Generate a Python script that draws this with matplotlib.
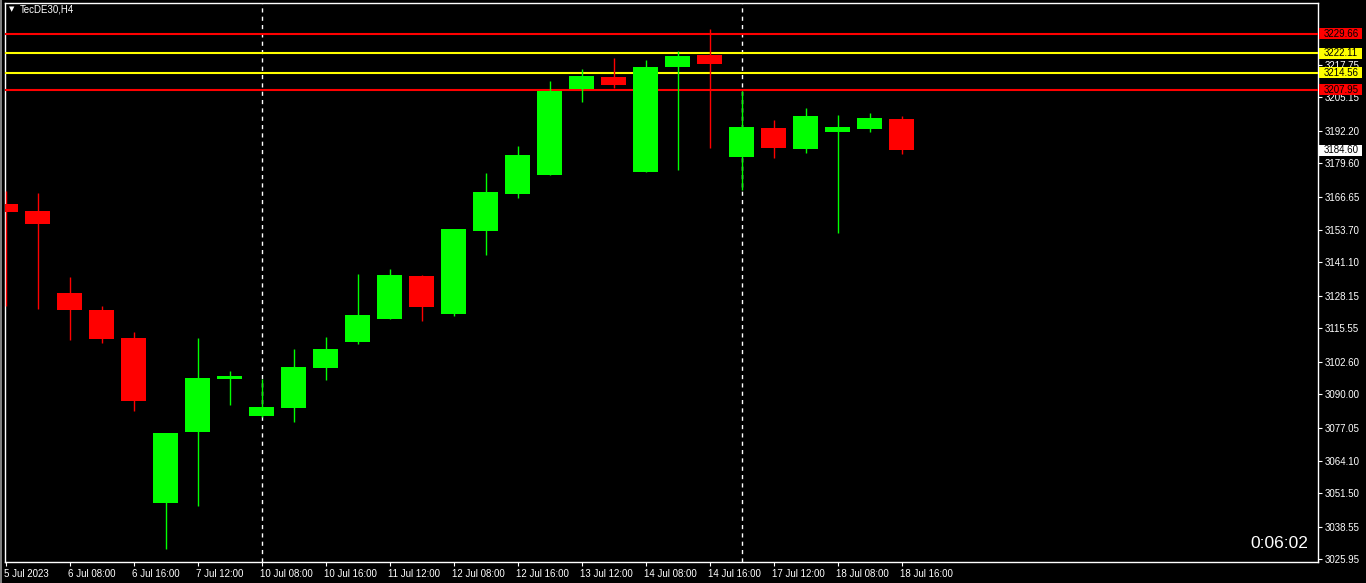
import matplotlib
matplotlib.use('Agg')
import matplotlib.pyplot as plt
import matplotlib.transforms as mtransforms
from matplotlib.patches import Rectangle

# ---- data (TecDE30, H4) ----
opens = [3163.75, 3161.0, 3129.2, 3122.65, 3111.8, 3047.9, 3075.45, 3095.9, 3081.65, 3084.75,
         3100.3, 3110.35, 3119.15, 3135.8, 3121.2, 3153.4, 3167.75, 3175.1, 3208.35, 3213.0,
         3176.25, 3217.0, 3221.5, 3182.1, 3193.2, 3185.1, 3191.65, 3192.8, 3196.7]
highs = [3168.8, 3168.0, 3135.4, 3124.2, 3114.1, 3074.95, 3111.8, 3099.0, 3095.9, 3107.5,
         3112.2, 3136.6, 3138.55, 3136.2, 3154.05, 3175.75, 3186.25, 3211.45, 3216.1, 3220.35,
         3219.6, 3223.05, 3231.6, 3207.5, 3196.3, 3201.0, 3198.25, 3199.0, 3197.85]
lows = [3124.2, 3123.15, 3111.1, 3110.0, 3083.6, 3030.1, 3046.8, 3085.9, 3081.0, 3079.35,
        3095.6, 3109.6, 3119.15, 3118.5, 3120.45, 3144.1, 3166.2, 3175.1, 3203.4, 3208.85,
        3176.25, 3177.05, 3185.6, 3169.2, 3181.6, 3183.5, 3152.5, 3191.65, 3183.15]
closes = [3160.65, 3156.1, 3122.8, 3111.5, 3087.5, 3074.95, 3096.3, 3097.05, 3085.05, 3100.55,
          3107.5, 3120.7, 3136.2, 3123.9, 3154.05, 3168.4, 3182.75, 3207.55, 3213.4, 3210.0,
          3216.85, 3221.15, 3218.15, 3193.6, 3185.45, 3197.85, 3193.6, 3197.1, 3184.6]

x_tick_labels = ["5 Jul 2023", "6 Jul 08:00", "6 Jul 16:00", "7 Jul 12:00", "10 Jul 08:00",
                 "10 Jul 16:00", "11 Jul 12:00", "12 Jul 08:00", "12 Jul 16:00", "13 Jul 12:00",
                 "14 Jul 08:00", "14 Jul 16:00", "17 Jul 12:00", "18 Jul 08:00", "18 Jul 16:00"]
y_tick_values = [3217.75, 3205.15, 3192.20, 3179.60, 3166.65, 3153.70, 3141.10, 3128.15,
                 3115.55, 3102.60, 3090.00, 3077.05, 3064.10, 3051.50, 3038.55, 3025.95]
levels = [3229.66, 3222.11, 3214.56, 3207.95]
level_colors = ['#FF0000', '#FFFF00', '#FFFF00', '#FF0000']
separator_bars = [8, 23]
current_price = 3184.60
symbol_title = "TecDE30,H4"
timer_text = "0:06:02"

W, H = 1366, 583
FONT = 'Liberation Sans'
fig = plt.figure(figsize=(W / 100, H / 100), dpi=100, facecolor='black')
ax = fig.add_axes([4.5 / W, 21 / H, 1313.5 / W, 559 / H], facecolor='black')

n = len(opens)
xs = list(range(n))
xmin = -1.0 / 32
ax.set_xlim(xmin, xmin + 1313.5 / 32)
ax.set_ylim(3024.93, 3241.68)

# horizontal levels
for lv, c in zip(levels, level_colors):
    ax.axhline(lv, color=c, lw=1.5, zorder=3)

# period separators
for sb in separator_bars:
    ax.axvline(sb, color='white', lw=1, ls=(0, (3, 3)), zorder=1)

# candles
for x, o, h, l, c in zip(xs, opens, highs, lows, closes):
    col = '#00FF00' if c >= o else '#FF0000'
    ax.vlines(x, l, h, color=col, lw=1.0, zorder=4)
    ax.bar(x, max(abs(c - o), 0.4), bottom=min(o, c), width=0.78, color=col,
           edgecolor='none', zorder=5)

# axes styling
for s in ax.spines.values():
    s.set_color('white')
    s.set_linewidth(1)
ax.yaxis.tick_right()
ax.set_yticks(y_tick_values)
ax.set_yticklabels([f"{v:.2f}" for v in y_tick_values], fontsize=7, family=FONT, color='white')
ax.tick_params(axis='y', colors='white', length=3, width=0.8, pad=2, labelcolor='white')
ax.set_xticks(xs[::2])
ax.set_xticklabels(x_tick_labels, fontsize=7, family=FONT, color='white', ha='left')
ax.tick_params(axis='x', colors='white', length=3, width=0.8, pad=2, labelcolor='white')
for lbl in ax.get_xticklabels():
    lbl.set_transform(lbl.get_transform() + mtransforms.ScaledTranslation(-1 / 100, 0, fig.dpi_scale_trans))

# price labels on right axis
trans = mtransforms.blended_transform_factory(fig.transFigure, ax.transData)
box_h = 11 / 2.579
for lv, c, tc in list(zip(levels, level_colors, ['black'] * 4)) + [(current_price, 'white', 'black')]:
    ax.add_patch(Rectangle((1319 / W, lv - box_h / 2), 43 / W, box_h, transform=trans,
                           facecolor=c, edgecolor='none', clip_on=False, zorder=10))
    ax.text(1323.5 / W, lv, f"{lv:.2f}", transform=trans, fontsize=7, family=FONT,
            color=tc, va='center', ha='left', zorder=11, clip_on=False)

# title and timer
fig.text(12 / W, 1 - 9 / H, '\u25bc', color='white', fontsize=5, ha='center', va='center',
         family='DejaVu Sans')
fig.text(20 / W, 1 - 9 / H, symbol_title, color='white', fontsize=7, family=FONT,
         ha='left', va='center')
fig.text(1308 / W, 1 - 543 / H, timer_text, color='white', fontsize=12.5, family=FONT,
         ha='right', va='center')

# window edge strip
fig.add_artist(Rectangle((0, 0), 2 / W, 1, transform=fig.transFigure, facecolor='#808080',
                         edgecolor='none'))

fig.savefig('out.png', dpi=100, facecolor='black')
